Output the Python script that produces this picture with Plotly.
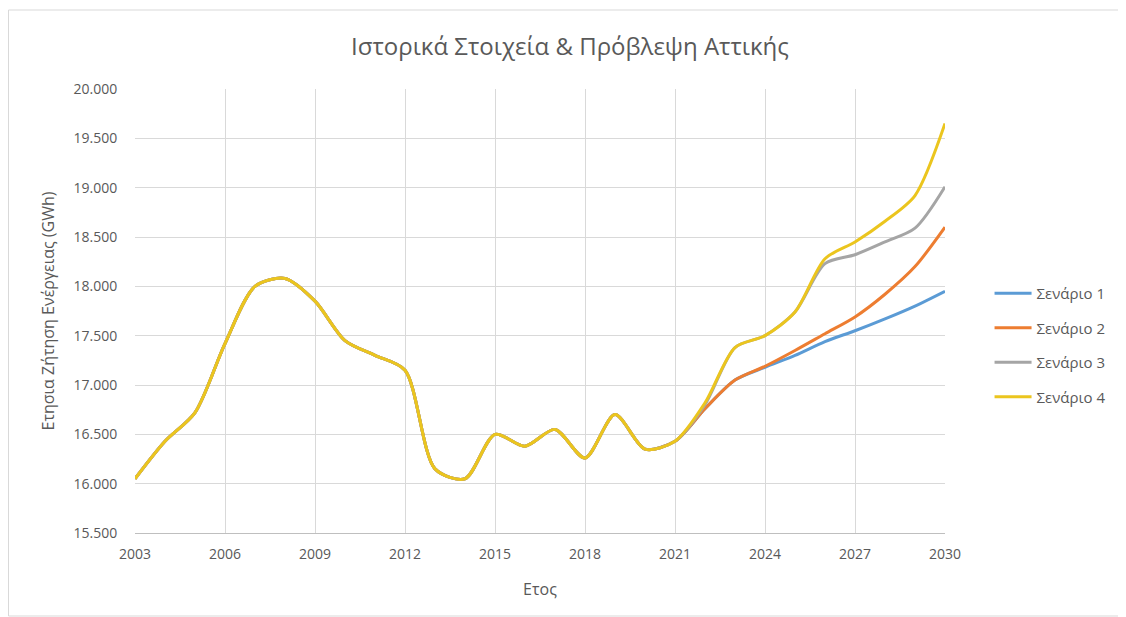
import plotly.graph_objects as go

years = list(range(2003, 2031))
history = [16050, 16430, 16720, 17420, 18000, 18080, 17850, 17450, 17300, 17150,
           16150, 16050, 16500, 16380, 16550, 16260, 16700, 16350, 16430]
scen1 = [16760, 17050, 17180, 17300, 17440, 17550, 17670, 17800, 17950]
scen2 = [16760, 17050, 17190, 17350, 17520, 17690, 17920, 18200, 18600]
scen3 = [16800, 17380, 17500, 17740, 18230, 18320, 18450, 18590, 19010]
scen4 = [16820, 17380, 17500, 17740, 18280, 18450, 18660, 18920, 19650]
names = ["Σενάριο 1", "Σενάριο 2", "Σενάριο 3", "Σενάριο 4"]
colors = ["#5B9BD5", "#ED7D31", "#A5A5A5", "#EBC51E"]

fig = go.Figure()
for nm, sc, col in zip(names, [scen1, scen2, scen3, scen4], colors):
    fig.add_trace(go.Scatter(
        x=years, y=history + sc, name=nm, mode="lines",
        line=dict(color=col, width=3, shape="spline", smoothing=0.8),
        legendgroup=nm,
    ))

font_c = "#595959"
L, T, R, B = 127, 81, 189, 92
W, H = 1126, 617
pw, ph = W - L - R, H - T - B
fig.update_layout(
    width=W, height=H,
    margin=dict(l=L, r=R, t=T, b=B),
    paper_bgcolor="white", plot_bgcolor="white",
    separators=",.",
    font=dict(family="Open Sans, Noto Sans, sans-serif", color=font_c, size=14),
    title=dict(text="Ιστορικά Στοιχεία & Πρόβλεψη Αττικής", x=(570 - 8) / W, xref="container",
               y=1 - 39 / H, yanchor="middle", xanchor="center",
               font=dict(size=24, color=font_c)),
    xaxis=dict(range=[2003, 2030], dtick=3, tick0=2003, showgrid=True, gridcolor="#D9D9D9",
               gridwidth=1, showline=True, linecolor="#BFBFBF", linewidth=1, zeroline=False,
               ticks="outside", ticklen=8, tickcolor="rgba(0,0,0,0)",
               tickfont=dict(size=14, color=font_c),
               title=dict(text="Ετος", font=dict(size=16, color=font_c), standoff=22)),
    yaxis=dict(range=[15500, 20000], dtick=500, tickformat=",d", showgrid=True,
               gridcolor="#D9D9D9", gridwidth=1, zeroline=False, showline=False,
               ticks="outside", ticklen=14, tickcolor="rgba(0,0,0,0)",
               tickfont=dict(size=14, color=font_c),
               title=dict(text="Ετησια Ζήτηση Ενέργειας (GWh)", font=dict(size=16, color=font_c),
                          standoff=14)),
    legend=dict(x=1.055, y=(525 - 337) / ph, xanchor="left", yanchor="middle",
                traceorder="grouped", tracegroupgap=12, itemwidth=37,
                font=dict(size=15, color=font_c), bgcolor="rgba(0,0,0,0)"),
    shapes=[dict(type="rect", xref="paper", yref="paper",
                 x0=(0.5 - L) / pw, x1=(1117 - L) / pw,
                 y0=(H - B - 608) / ph, y1=(H - B - 2) / ph,
                 line=dict(color="#D9D9D9", width=1), fillcolor="rgba(0,0,0,0)", layer="below")],
)

fig.write_html("out.html")
